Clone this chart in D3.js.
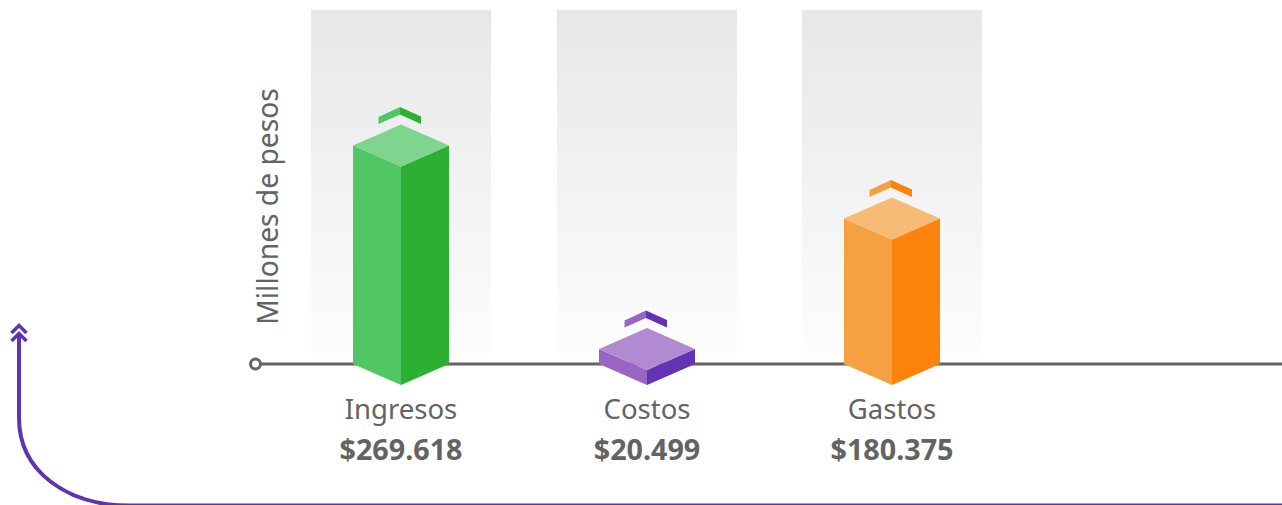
<!DOCTYPE html>
<html><head><meta charset="utf-8">
<script src="https://d3js.org/d3.v7.min.js"></script>
<style>html,body{margin:0;padding:0;background:#fff;overflow:hidden}svg{display:block}
text{font-family:"Noto Sans",sans-serif}</style></head><body>
<svg id="c" width="1282" height="505"></svg>
<script>
const categories=["Ingresos","Costos","Gastos"];
const values=[269618,20499,180375];
const valueLabels=["$269.618","$20.499","$180.375"];
const frontColors=["#50c664","#9a64c4","#f5a142"];
const sideColors=["#2bb032","#6233b3","#fb820b"];
const topColors=["#80d58e","#b28ad2","#f7bb75"];
const axisTitle="Millones de pesos";

const svg=d3.select("#c");
const x=d3.scaleOrdinal().domain(categories).range([401,647,892]);
const y=d3.scaleLinear().domain([0,269618]).range([386.8,166.5]);
const base=385,hw=48,hh=21,bandW=180;
const defs=svg.append("defs");
const g=defs.append("linearGradient").attr("id","band").attr("x1",0).attr("x2",0).attr("y1",0).attr("y2",1);
g.append("stop").attr("offset",0).attr("stop-color","#e6e7e8");
g.append("stop").attr("offset",1).attr("stop-color","#fdfdfd");

svg.selectAll("rect.band").data(categories).join("rect").attr("class","band")
 .attr("x",d=>x(d)-bandW/2).attr("y",10).attr("width",bandW).attr("height",343).attr("fill","url(#band)");

svg.append("line").attr("x1",261).attr("x2",1282).attr("y1",364).attr("y2",364).attr("stroke","#636363").attr("stroke-width",3);
svg.append("circle").attr("cx",255.5).attr("cy",364).attr("r",5).attr("fill","#fff").attr("stroke","#636363").attr("stroke-width",3);

const poly=(pts,fill)=>svg.append("polygon").attr("points",pts.map(p=>p.join(",")).join(" ")).attr("fill",fill);
categories.forEach((c,i)=>{
  const cx=x(c),b=base,t=y(values[i]);
  poly([[cx-hw,t-hh],[cx,t],[cx,b],[cx-hw,b-hh]],frontColors[i]);
  poly([[cx+hw,t-hh],[cx,t],[cx,b],[cx+hw,b-hh]],sideColors[i]);
  poly([[cx,t-2*hh],[cx+hw,t-hh],[cx,t],[cx-hw,t-hh]],topColors[i]);
  const a=t-2*hh-17.5;
  poly([[cx-22.5,a+10],[cx-1,a],[cx-1,a+7.5],[cx-22.5,a+17]],frontColors[i]);
  poly([[cx+20,a+9.5],[cx-1,a],[cx-1,a+7.5],[cx+20,a+17]],sideColors[i]);
});

svg.selectAll("text.cat").data(categories).join("text").attr("class","cat")
 .attr("x",d=>x(d)).attr("y",419).attr("text-anchor","middle").attr("font-size",27.5).attr("fill","#636363").text(d=>d);
svg.selectAll("text.val").data(valueLabels).join("text").attr("class","val")
 .attr("x",(d,i)=>x(categories[i])).attr("y",460).attr("text-anchor","middle").attr("font-size",28.7).attr("font-weight",700).attr("fill","#636363").text(d=>d);
svg.append("text").attr("transform","translate(277.5,206.5) rotate(-90)").attr("text-anchor","middle").attr("font-size",28.2).attr("fill","#636363").text(axisTitle);

const purple="#5f33b1";
svg.append("path").attr("d","M19,335V418C19,470 65,505.6 130,505.6H1282").attr("fill","none").attr("stroke",purple).attr("stroke-width",4);
[325.5,333.5].forEach(yy=>{
  svg.append("path").attr("d",`M11.5,${yy+7.5}L19,${yy}L26.5,${yy+7.5}`).attr("fill","none").attr("stroke",purple).attr("stroke-width",3.5);
});
</script></body></html>
